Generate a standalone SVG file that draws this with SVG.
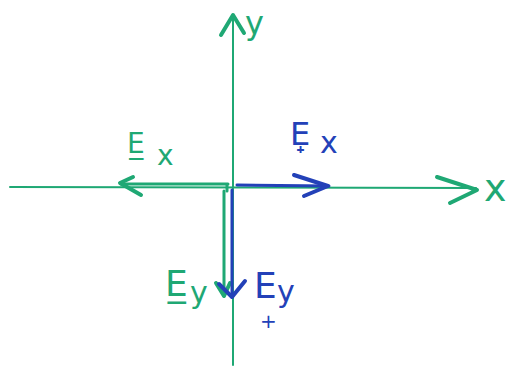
<svg xmlns="http://www.w3.org/2000/svg" width="525" height="382" viewBox="0 0 525 382">
<style>
.g{stroke:#1fa874;fill:none;stroke-linecap:round;stroke-linejoin:round}
.b{stroke:#2341b8;fill:none;stroke-linecap:round;stroke-linejoin:round}
.tg{fill:#1fa874;font-family:"DejaVu Sans",sans-serif}
.tb{fill:#2341b8;font-family:"DejaVu Sans",sans-serif}
</style>
<rect width="525" height="382" fill="#fff"/>
<g id="connectors">
<g id="x-axis">
<path class="g" stroke-width="2" d="M10 187 L476 188"/>
<path class="g" stroke-width="4" d="M437 177 L477 190 L450 203"/>
</g>
<g id="y-axis">
<path class="g" stroke-width="2" d="M233 15 L233 365"/>
<path class="g" stroke-width="4" d="M221 35 L233 15 L244 33"/>
</g>
<g id="Ex-minus-arrow">
<path class="g" stroke-width="3" d="M228 184 L121 184 M227 184 L227 191"/>
<path class="g" stroke-width="4" d="M133 177 L120 183 L141 195"/>
</g>
<g id="Ex-plus-arrow">
<path class="b" stroke-width="3" d="M237 185 L329 186"/>
<path class="b" stroke-width="4" d="M294 175 L328 186 L304 196"/>
</g>
<g id="Ey-minus-arrow">
<path class="g" stroke-width="3" d="M224 191 L224 296"/>
<path class="g" stroke-width="4" d="M216 283 L224 296 L230 283"/>
</g>
<g id="Ey-plus-arrow">
<path class="b" stroke-width="3" d="M232 190 L232 297"/>
<path class="b" stroke-width="4" d="M219 284 L232 297 L245 281"/>
</g>
</g>
<g id="label-x"><text class="tg" x="484" y="201" font-size="38">x</text></g>
<g id="label-y"><text class="tg" x="245" y="34" font-size="32">y</text></g>
<g id="label-Ex-minus">
<text class="tg" x="127" y="153" font-size="28">E&#x332;<tspan x="157" y="165">x</tspan></text>
</g>
<g id="label-Ex-plus">
<text class="tb" x="290" y="145" font-size="32">E&#x31F;<tspan x="320" y="153" font-size="30">x</tspan></text>
</g>
<g id="label-Ey-minus">
<text class="tg" x="165" y="296" font-size="36">E&#x332;<tspan x="190" y="303" font-size="30">y</tspan></text>
</g>
<g id="label-Ey-plus">
<text class="tb" x="254" y="298" font-size="36">E<tspan x="277" y="302" font-size="30">y</tspan><tspan x="260" y="328" font-size="20">+</tspan></text>
</g>
</svg>
